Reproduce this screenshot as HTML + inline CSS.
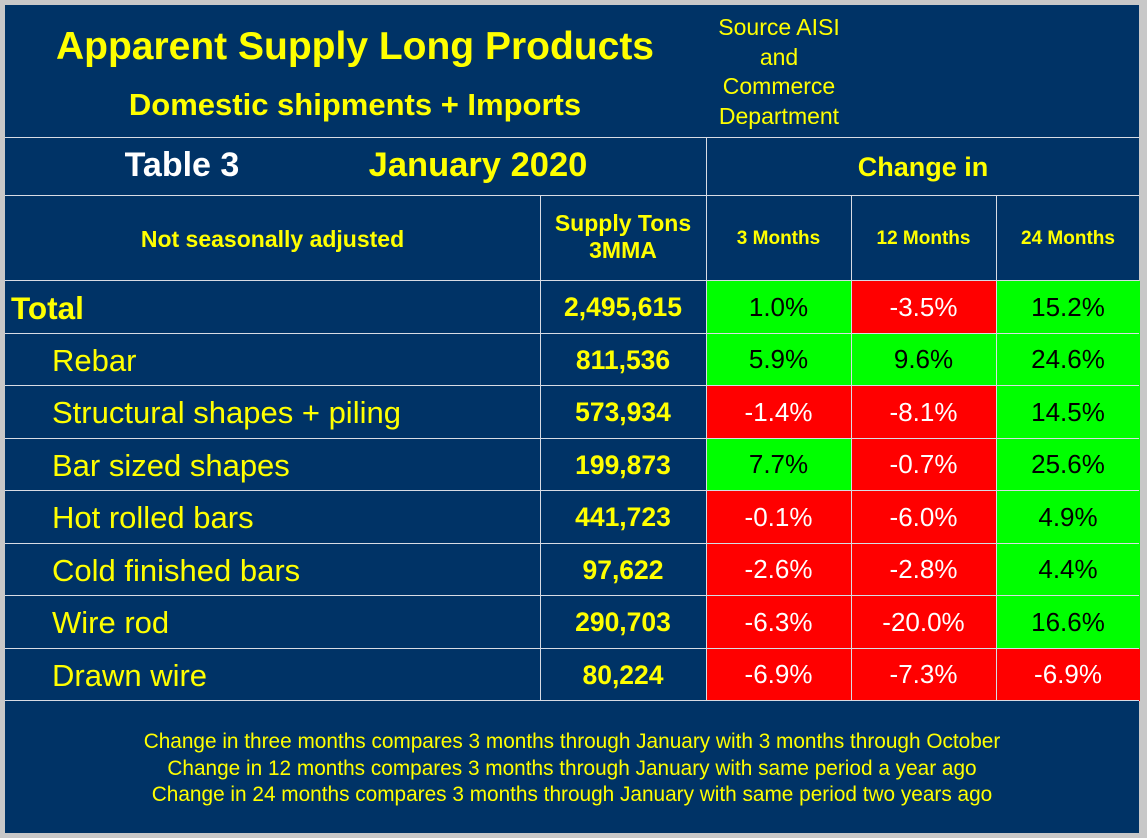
<!DOCTYPE html>
<html><head><meta charset="utf-8"><style>
body{margin:0;width:1147px;height:838px;background:#c8c8c8;overflow:hidden;font-family:"Liberation Sans",Arial,sans-serif;position:relative}
#panel{position:absolute;left:5px;top:5px;width:1134px;height:828px;background:#003366}
.t{position:absolute;white-space:nowrap;text-align:center}
.hl{position:absolute;height:1px;background:#d8dce4}
.vl{position:absolute;width:1px;background:#d8dce4}
.c{position:absolute;display:flex;align-items:center;justify-content:center;font-size:26px}
.y{color:#ffff00}
</style></head><body>
<div id="panel"></div>
<div class="t y" style="left:5px;width:700px;top:25px;font-size:39px;font-weight:bold">Apparent Supply Long Products</div>
<div class="t y" style="left:5px;width:700px;top:87px;font-size:31px;font-weight:bold">Domestic shipments + Imports</div>
<div class="t y" style="left:699px;width:160px;top:13px;font-size:23px;line-height:29.5px">Source AISI<br>and<br>Commerce<br>Department</div>
<div class="t" style="left:92px;width:180px;top:146px;font-size:34px;font-weight:bold;color:#fff">Table 3</div>
<div class="t y" style="left:328px;width:300px;top:146px;font-size:34.5px;font-weight:bold">January 2020</div>
<div class="t y" style="left:706px;width:434px;top:152px;font-size:27px;font-weight:bold">Change in</div>
<div class="t y" style="left:5px;width:535px;top:226px;font-size:23px;font-weight:bold">Not seasonally adjusted</div>
<div class="t y" style="left:540px;width:166px;top:210px;font-size:23px;font-weight:bold;line-height:27px">Supply Tons<br>3MMA</div>
<div class="t y" style="left:706px;width:145px;top:228px;font-size:19px;font-weight:bold">3 Months</div>
<div class="t y" style="left:851px;width:145px;top:228px;font-size:19px;font-weight:bold">12 Months</div>
<div class="t y" style="left:996px;width:144px;top:228px;font-size:19px;font-weight:bold">24 Months</div>
<div id="rows"></div>
<div class="t y" style="left:5px;width:1134px;top:729px;font-size:20.8px;line-height:26.5px">Change in three months compares 3 months through January with 3 months through October<br>Change in 12 months compares 3 months through January with same period a year ago<br>Change in 24 months compares 3 months through January with same period two years ago</div>
<script>
const products=["Total","Rebar","Structural shapes + piling","Bar sized shapes","Hot rolled bars","Cold finished bars","Wire rod","Drawn wire"];
const tons=["2,495,615","811,536","573,934","199,873","441,723","97,622","290,703","80,224"];
const chg3=[1.0,5.9,-1.4,7.7,-0.1,-2.6,-6.3,-6.9];
const chg12=[-3.5,9.6,-8.1,-0.7,-6.0,-2.8,-20.0,-7.3];
const chg24=[15.2,24.6,14.5,25.6,4.9,4.4,16.6,-6.9];
const R=document.getElementById('rows');
const top0=280,rh=52.5,colX=[706,851,996],colW=[145,145,144];
function mk(cls,style,txt){const d=document.createElement('div');d.className=cls;d.style.cssText=style;if(txt!==undefined)d.textContent=txt;R.appendChild(d);return d;}
products.forEach((p,i)=>{
  const y=top0+i*rh;
  [chg3,chg12,chg24].forEach((arr,j)=>{
    const v=arr[i];const pos=v>=0;
    const el=mk('c',`left:${colX[j]}px;top:${y+1}px;width:${colW[j]}px;height:${rh}px;background:${pos?'#00ff00':'#ff0000'};color:${pos?'#000':'#fff'}`,v.toFixed(1)+'%');
    
    
  });
  const n=mk('t y',`left:${i==0?11:52}px;top:${y+10}px;font-size:${i==0?31.5:31}px;${i==0?'font-weight:bold;':''}text-align:left`,p);
  
  
  const t=mk('t y',`left:540px;width:166px;top:${y+12}px;font-size:26.5px;font-weight:bold`,tons[i]);
  
  
});
const hs=[[5,137,1134],[5,195,1134],[5,280,1134]];
for(let i=1;i<=8;i++)hs.push([5,Math.round(top0+i*rh),1134]);
hs.forEach(h=>{const l=mk('hl',`left:${h[0]}px;top:${h[1]}px;width:${h[2]}px`);});
[[540,195,505],[706,137,563],[851,195,505],[996,195,505]].forEach(v=>{const l=mk('vl',`left:${v[0]}px;top:${v[1]}px;height:${v[2]}px`);});
</script>
</body></html>
